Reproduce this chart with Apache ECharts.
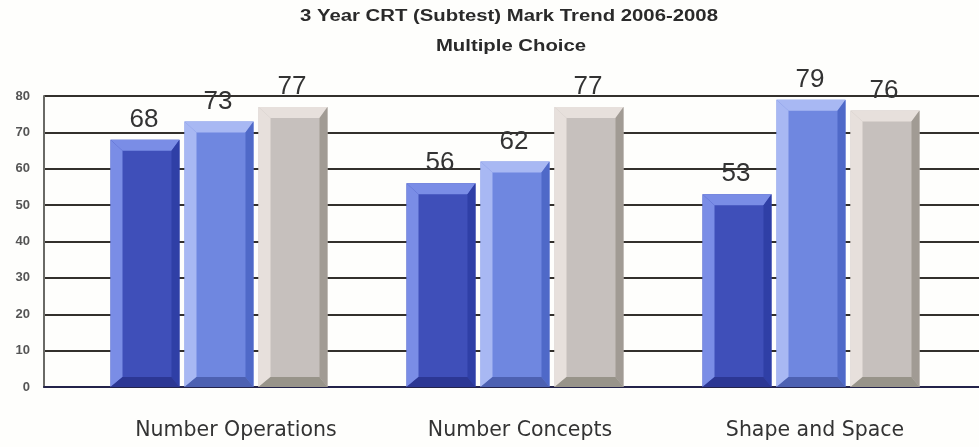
<!DOCTYPE html>
<html><head><meta charset="utf-8">
<style>html,body{margin:0;padding:0;background:#fefefc}#c{width:979px;height:447px;filter:blur(0.6px)}</style>
<script src="https://cdn.jsdelivr.net/npm/echarts@6/dist/echarts.min.js"></script>
</head><body><div id="c"></div>
<script>
const titleLines = ['3 Year CRT (Subtest) Mark Trend 2006-2008', 'Multiple Choice'];
const categories = ['Number Operations', 'Number Concepts', 'Shape and Space'];
const series2006 = [68, 56, 53];
const series2007 = [73, 62, 79];
const series2008 = [77, 77, 76];
const yTicks = [0, 10, 20, 30, 40, 50, 60, 70, 80];

const palettes = [
  {face:'#3f4fb9', light:'#7a8de6', dark:'#2f3fa6', base:'#2c3794'},
  {face:'#6f87e0', light:'#a8b8f3', dark:'#4f69c8', base:'#4d61b2'},
  {face:'#c6c0bd', light:'#e7e0dc', dark:'#a19b94', base:'#98948a'}
];
const W = 69, L = 12, T = 11, R = 8, B = 10;
function bevelBar(idx) {
  const p = palettes[idx];
  return function (params, api) {
    const val = api.value(1);
    const c = api.coord([api.value(0), val]);
    const y0 = api.coord([api.value(0), 0])[1];
    const cx = c[0] + (idx - 1) * 74;
    const x1 = cx - W / 2, x2 = cx + W / 2, y1 = c[1];
    const ix1 = x1 + L, ix2 = x2 - R, iy1 = y1 + T, iy2 = y0 - B;
    const poly = (pts, fill) => ({type:'polygon', shape:{points:pts}, style:{fill:fill}});
    return {type:'group', children:[
      poly([[x1,y1],[x2,y1],[x2,y0],[x1,y0]], p.face),
      poly([[x1,y1],[ix1,iy1],[ix1,iy2],[x1,y0]], p.light),
      poly([[x1,y1],[x2,y1],[ix2,iy1],[ix1,iy1]], p.light),
      poly([[x2,y1],[x2,y0],[ix2,iy2],[ix2,iy1]], p.dark),
      poly([[x1,y0],[ix1,iy2],[ix2,iy2],[x2,y0]], p.base),
      {type:'text', style:{text:String(val), x:cx-1, y:y1-7, align:'center', verticalAlign:'bottom',
        font:'26px "Liberation Sans"', fill:'#333'}}
    ]};
  };
}
function barSeries(data, idx) {
  return {type:'custom', xAxisIndex:1, yAxisIndex:1, renderItem:bevelBar(idx), clip:false,
    data:data.map((v,i)=>[i,v]), encode:{x:0,y:1}, z:5};
}
function titleText(text, cx, cy) {
  return {type:'text', x:cx, y:cy, scaleX:1.27, style:{text:text, x:0, y:0, align:'center', verticalAlign:'middle',
    font:'bold 16px "Liberation Sans"', fill:'#2a2a2a'}};
}
const catStyle = {fontFamily:'DejaVu Sans', fontSize:20.5, color:'#333'};
const chart = echarts.init(document.getElementById('c'), null, {renderer:'canvas'});
chart.setOption({
  animation:false,
  backgroundColor:'#fefefc',
  graphic:[titleText(titleLines[0], 509, 17), titleText(titleLines[1], 511, 47)],
  grid:[
    {left:44, right:0, top:96, height:291},
    {left:71, right:20, top:96, height:291}
  ],
  xAxis:[
    {gridIndex:0, type:'category', data:[''], axisLabel:{show:false}, axisTick:{show:false},
      axisLine:{show:true,lineStyle:{color:'#23234a',width:2}}},
    {gridIndex:1, type:'category', data:categories, axisLine:{show:false}, axisTick:{show:false},
      axisLabel:{interval:0, hideOverlap:false, margin:33, ...catStyle,
        formatter:(v,i)=>'{c'+i+'|'+v+'}',
        rich:{
          c0:{...catStyle, padding:[0,0,0,34]},
          c1:{...catStyle, padding:[0,0,0,10]},
          c2:{...catStyle, padding:[0,0,0,8]}
        }}}
  ],
  yAxis:[
    {gridIndex:0, type:'value', min:yTicks[0], max:yTicks[yTicks.length-1], interval:10,
      axisLine:{show:true,lineStyle:{color:'#6a6a66',width:2}}, axisTick:{show:false},
      splitLine:{lineStyle:{color:'#33302c',width:2}},
      axisLabel:{margin:14, fontFamily:'Liberation Sans', fontSize:13, fontWeight:'bold', color:'#555'}},
    {gridIndex:1, type:'value', min:yTicks[0], max:yTicks[yTicks.length-1], interval:10,
      axisLine:{show:false}, axisTick:{show:false}, splitLine:{show:false}, axisLabel:{show:false}}
  ],
  series:[barSeries(series2006,0), barSeries(series2007,1), barSeries(series2008,2)]
});
</script></body></html>
